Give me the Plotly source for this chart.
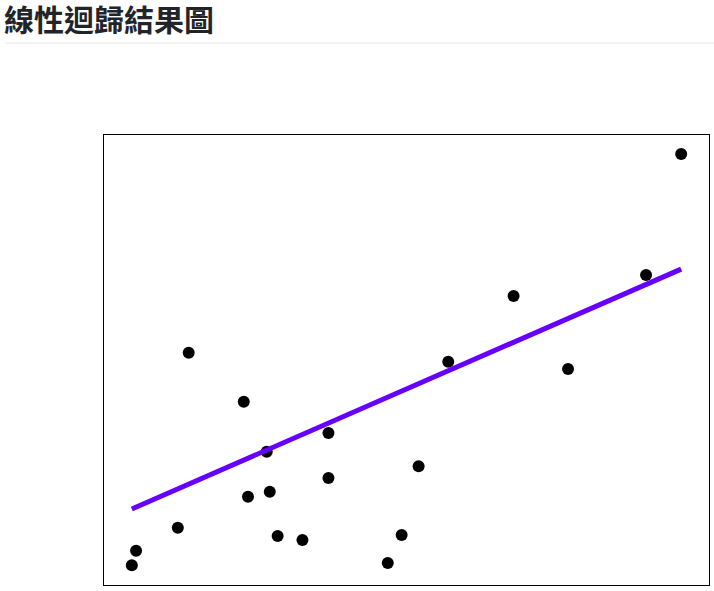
import plotly.graph_objects as go

# Data (arbitrary units, 0-100 scale)
x_test = [4.6, 5.3, 12.2, 14.0, 23.1, 23.8, 26.9, 27.4, 28.7, 32.8,
          37.1, 37.1, 46.9, 49.2, 52.0, 56.9, 67.7, 76.7, 89.6, 95.4]
y_test = [4.4, 7.6, 12.7, 51.6, 40.7, 19.6, 29.6, 20.7, 10.9, 10.0,
          33.8, 23.8, 4.9, 11.1, 26.4, 49.6, 64.2, 48.0, 68.9, 95.8]
line_x = [4.6, 95.4]
line_y = [16.9, 70.2]

title_text = "線性迴歸結果圖"

W, H = 714, 591
L, R, T, B = 104, 5, 135, 6
pw, ph = W - L - R, H - T - B

def px_x(p):
    return (p - L) / pw

def px_y(p):
    return (H - B - p) / ph

fig = go.Figure()
fig.add_trace(go.Scatter(x=x_test, y=y_test, mode="markers",
                         marker=dict(color="black", size=12),
                         showlegend=False, hoverinfo="skip"))
fig.add_trace(go.Scatter(x=line_x, y=line_y, mode="lines",
                         line=dict(color="#6600ff", width=5),
                         showlegend=False, hoverinfo="skip"))

axis_common = dict(showgrid=False, zeroline=False, showticklabels=False,
                   ticks="", showline=True, linecolor="black", linewidth=1,
                   mirror=True)
fig.update_xaxes(range=[0, 100], **axis_common)
fig.update_yaxes(range=[0, 100], **axis_common)

fig.add_shape(type="line", xref="paper", yref="paper",
              x0=px_x(5), x1=px_x(714), y0=px_y(43), y1=px_y(43),
              line=dict(color="#e6e6e6", width=1))

fig.update_layout(
    width=W, height=H, margin=dict(l=L, r=R, t=T, b=B),
    plot_bgcolor="white", paper_bgcolor="white",
    title=dict(text="<b>" + title_text + "</b>", xref="container", yref="container",
               x=4 / W, y=1 - 20 / H, xanchor="left", yanchor="middle",
               font=dict(family="Noto Sans CJK TC", size=30, color="#212529")),
)

fig.write_html("out.html")
